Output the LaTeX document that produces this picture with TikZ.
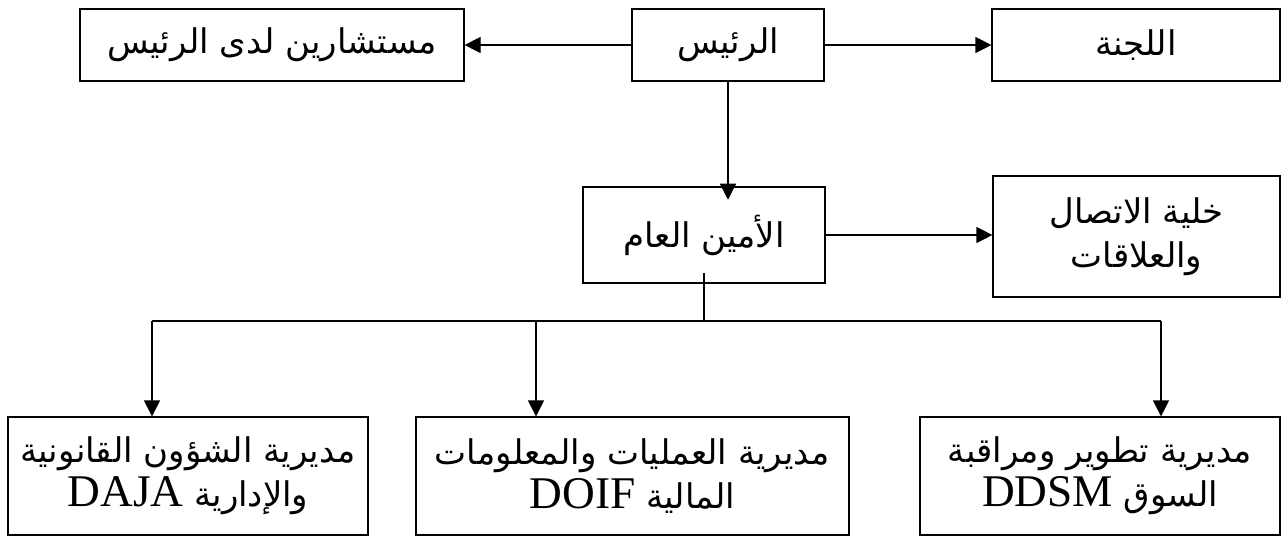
\documentclass[tikz,border=0pt]{standalone}
\usepackage{fontspec}
\setmainfont{Liberation Serif}
\newfontfamily\arabicfont[Script=Arabic,Scale=0.75]{DejaVu Sans}
\TeXXeTstate=1
\usetikzlibrary{arrows.meta}
\newcommand{\artxt}[1]{{\arabicfont\beginR #1\endR}}
\newcommand{\latn}[1]{\beginL{\rmfamily #1}\endL}

\begin{document}
\begin{tikzpicture}[x=0.75pt,y=0.75pt,yscale=-1,xscale=1,
  unitbox/.style={draw, line width=0.9pt, inner sep=0pt, align=center, minimum height=54pt,
    font=\fontsize{34}{33}\selectfont},
  link/.style={line width=0.9pt},
  arrowlink/.style={link, -{Triangle[length=12pt,width=12pt]}}]
\useasboundingbox (0,0) rectangle (1282,537);

% Text Node
\node [unitbox, minimum width=288pt] (adv) at (272,45) {\artxt{مستشارين لدى الرئيس}};
% Text Node
\node [unitbox, minimum width=144pt] (pres) at (728,45) {\artxt{الرئيس}};
% Text Node
\node [unitbox, minimum width=216pt] (com) at (1136,45) {\artxt{اللجنة}};
% Text Node
\node [unitbox, minimum width=181.5pt, minimum height=72pt] (sg) at (704,235) {\artxt{الأمين العام}};
% Text Node
\node [unitbox, minimum width=215.25pt, minimum height=90.75pt] (cell) at (1136.5,236.5)
  {\artxt{خلية الاتصال}\\\artxt{والعلاقات}};
% Text Node
\node [unitbox, minimum width=270pt, minimum height=88.5pt] (daja) at (188,476)
  {\artxt{مديرية الشؤون القانونية}\\\artxt{والإدارية \latn{DAJA}}};
% Text Node
\node [unitbox, minimum width=324.75pt, minimum height=88.5pt] (doif) at (632.5,476)
  {\artxt{مديرية العمليات والمعلومات}\\\artxt{المالية \latn{DOIF}}};
% Text Node
\node [unitbox, minimum width=270pt, minimum height=88.5pt] (ddsm) at (1100,476)
  {\artxt{مديرية تطوير ومراقبة}\\\artxt{السوق \latn{DDSM}}};

%Straight Lines
\draw [arrowlink] (pres.west) -- (adv.east);
\draw [arrowlink] (pres.east) -- (com.west);
\draw [arrowlink, shorten >=-10pt] (pres.south) -- (pres.south |- sg.north);
\draw [arrowlink] (sg.east) -- (sg.east -| cell.west);

% bus to the directorates
\coordinate (busL) at (152,321);
\coordinate (busM) at (536,321);
\coordinate (busR) at (1161,321);
\draw [link, shorten <=-8pt] (sg.south) -- (sg.south |- busL);
\draw [link] (busL) -- (busR);
\draw [arrowlink] (busL) -- (busL |- daja.north);
\draw [arrowlink] (busM) -- (busM |- doif.north);
\draw [arrowlink] (busR) -- (busR |- ddsm.north);

\end{tikzpicture}
\end{document}
